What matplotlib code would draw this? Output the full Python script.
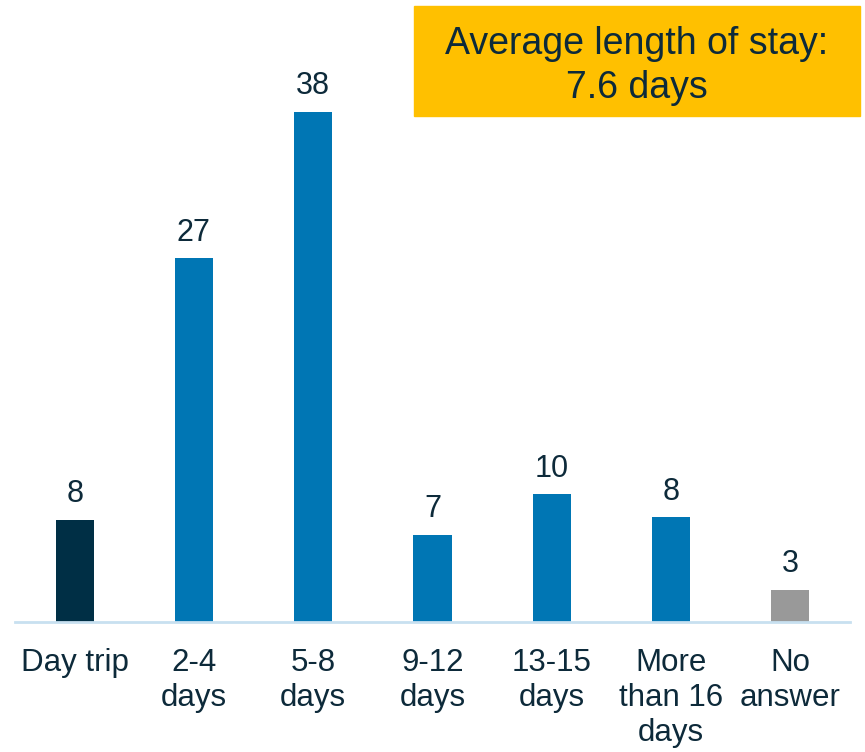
import matplotlib
matplotlib.use('Agg')
import matplotlib.pyplot as plt

plt.rcParams['font.family'] = ['Liberation Sans', 'DejaVu Sans']

# data
categories = ['Day trip', '2-4\ndays', '5-8\ndays', '9-12\ndays', '13-15\ndays', 'More\nthan 16\ndays', 'No\nanswer']
values = [7.6, 27.1, 38, 6.5, 9.5, 7.8, 2.4]
value_labels = ['8', '27', '38', '7', '10', '8', '3']
bar_colors = ['#002F45', '#0076B4', '#0076B4', '#0076B4', '#0076B4', '#0076B4', '#999999']
text_color = '#0D2A3A'

fig = plt.figure(figsize=(8.65, 7.52), dpi=100)
ax = fig.add_axes([15 / 865, 130 / 752, 835 / 865, 604 / 752])

x = range(len(categories))
ax.bar(x, values, width=0.32, color=bar_colors)
for i, v in enumerate(values):
    ax.text(i, v + 0.8, value_labels[i], ha='center', va='bottom', fontsize=22, color=text_color)

ax.set_xlim(-0.5, len(categories) - 0.5)
ax.set_ylim(0, 45)
ax.set_xticks(list(x))
ax.set_xticklabels(categories, fontsize=22.5, color=text_color, va='top', linespacing=1.2)
ax.tick_params(axis='x', length=0, pad=19)
ax.set_yticks([])
for side in ['top', 'right', 'left']:
    ax.spines[side].set_visible(False)
ax.spines['bottom'].set_color('#C8E0F0')
ax.spines['bottom'].set_linewidth(2)

# yellow box with the average
fig.patches.append(plt.Rectangle((414 / 865, 1 - 116 / 752), 446 / 865, 110 / 752,
                                 transform=fig.transFigure, color='#FFC000', zorder=0))
fig.text(637 / 865, 1 - 66 / 752, 'Average length of stay:\n7.6 days', ha='center', va='center',
         fontsize=27, color=text_color, linespacing=1.3)

plt.savefig('out.png', dpi=100)
